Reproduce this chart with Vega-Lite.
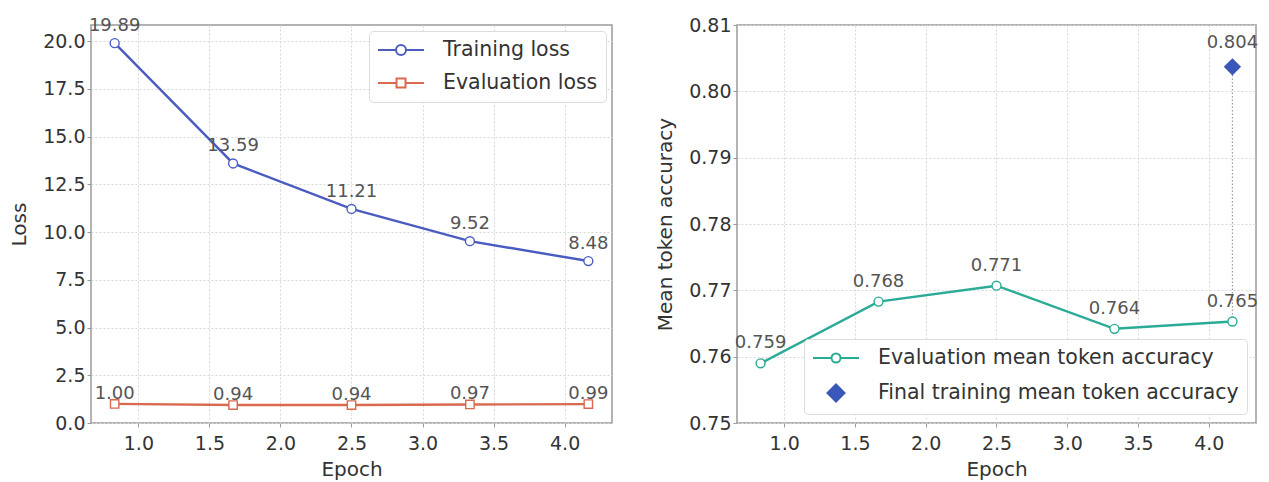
{
  "$schema": "https://vega.github.io/schema/vega-lite/v6.json",
  "padding": {"left": 8, "top": 15, "right": 8, "bottom": 5},
  "spacing": 41,
  "background": "white",
  "config": {
    "font": "DejaVu Sans",
    "view": {"stroke": "#9a9a9a", "strokeWidth": 1.5},
    "axis": {
      "domain": false,
      "grid": true,
      "gridColor": "#d9d9d9",
      "gridDash": [2, 2],
      "gridWidth": 1,
      "tickColor": "#9a9a9a",
      "tickSize": 4,
      "labelFontSize": 19,
      "labelColor": "#333333",
      "labelPadding": 2,
      "titleFontSize": 20,
      "titleFontWeight": "normal",
      "titleColor": "#333333"
    },
    "axisX": {"labelPadding": 7, "titlePadding": 6},
    "axisY": {"titlePadding": 13},
    "legend": {
      "labelFontSize": 20.5,
      "labelColor": "#333333",
      "labelLimit": 600,
      "fillColor": "white",
      "strokeColor": "#dddddd",
      "cornerRadius": 4,
      "padding": 8,
      "rowPadding": 11,
      "symbolSize": 400,
      "symbolStrokeWidth": 2,
      "symbolOpacity": 1,
      "symbolFillColor": "white",
      "symbolOffset": 13,
      "labelOffset": 31
    }
  },
  "resolve": {
    "scale": {"color": "independent", "shape": "independent", "fill": "independent", "x": "independent", "y": "independent"},
    "legend": {"color": "independent", "shape": "independent", "fill": "independent"}
  },
  "hconcat": [
    {
      "width": 521,
      "height": 398,
      "data": {
        "values": [
          {"epoch": 0.8333, "loss": 19.89, "series": "Training loss"},
          {"epoch": 1.6667, "loss": 13.59, "series": "Training loss"},
          {"epoch": 2.5, "loss": 11.21, "series": "Training loss"},
          {"epoch": 3.3333, "loss": 9.52, "series": "Training loss"},
          {"epoch": 4.1667, "loss": 8.48, "series": "Training loss"},
          {"epoch": 0.8333, "loss": 1.0, "series": "Evaluation loss"},
          {"epoch": 1.6667, "loss": 0.94, "series": "Evaluation loss"},
          {"epoch": 2.5, "loss": 0.94, "series": "Evaluation loss"},
          {"epoch": 3.3333, "loss": 0.97, "series": "Evaluation loss"},
          {"epoch": 4.1667, "loss": 0.99, "series": "Evaluation loss"}
        ]
      },
      "encoding": {
        "x": {
          "field": "epoch", "type": "quantitative",
          "scale": {"domain": [0.6667, 4.3333], "nice": false, "zero": false},
          "axis": {"values": [1, 1.5, 2, 2.5, 3, 3.5, 4], "format": ".1f", "title": "Epoch"}
        },
        "y": {
          "field": "loss", "type": "quantitative",
          "scale": {"domain": [0, 20.84], "nice": false},
          "axis": {"values": [0, 2.5, 5, 7.5, 10, 12.5, 15, 17.5, 20], "format": ".1f", "title": "Loss"}
        }
      },
      "layer": [
        {
          "transform": [{"filter": "datum.series === 'Training loss'"}],
          "mark": {"type": "line", "strokeWidth": 2.4, "color": "#4a5cc0"},
          "encoding": {}
        },
        {
          "transform": [{"filter": "datum.series === 'Evaluation loss'"}],
          "mark": {"type": "line", "strokeWidth": 2.4, "color": "#d9694f"},
          "encoding": {}
        },
        {
          "transform": [{"filter": "datum.series === 'Training loss'"}],
          "mark": {"type": "point", "shape": "circle", "filled": false, "fill": "white", "fillOpacity": 1, "stroke": "#4a5cc0", "strokeWidth": 1.4, "opacity": 1, "size": 80}
        },
        {
          "transform": [{"filter": "datum.series === 'Evaluation loss'"}],
          "mark": {"type": "point", "shape": "square", "filled": false, "fill": "white", "fillOpacity": 1, "stroke": "#d9694f", "strokeWidth": 1.4, "opacity": 1, "size": 70}
        },
        {
          "transform": [{"filter": "datum.series === 'Training loss'"}],
          "mark": {"type": "text", "fontSize": 18, "color": "#555555", "baseline": "alphabetic", "dy": -12},
          "encoding": {"text": {"field": "loss", "type": "quantitative", "format": ".2f"}}
        },
        {
          "transform": [{"filter": "datum.series === 'Evaluation loss'"}],
          "mark": {"type": "text", "fontSize": 18, "color": "#555555", "baseline": "alphabetic", "dy": -5},
          "encoding": {"text": {"field": "loss", "type": "quantitative", "format": ".2f"}}
        },
        {
          "mark": {"type": "point", "filled": false, "opacity": 0},
          "encoding": {
            "color": {"field": "series", "type": "nominal",
              "scale": {"domain": ["Training loss", "Evaluation loss"], "range": ["#4a5cc0", "#d9694f"]},
              "legend": {"title": null, "orient": "top-right", "offset": 6}},
            "shape": {"field": "series", "type": "nominal",
              "scale": {"domain": ["Training loss", "Evaluation loss"],
                "range": ["M-2.3,0H-0.5M0.5,0H2.3M-0.5,0A0.5,0.5 0 1,1 0.5,0A0.5,0.5 0 1,1 -0.5,0Z", "M-2.3,0H-0.45M0.45,0H2.3M-0.45,-0.45H0.45V0.45H-0.45Z"]},
              "legend": {"title": null, "orient": "top-right", "offset": 6}}
          }
        }
      ]
    },
    {
      "width": 519,
      "height": 398,
      "data": {
        "values": [
          {"epoch": 0.8333, "acc": 0.759, "series": "Evaluation mean token accuracy"},
          {"epoch": 1.6667, "acc": 0.7683, "series": "Evaluation mean token accuracy"},
          {"epoch": 2.5, "acc": 0.7707, "series": "Evaluation mean token accuracy"},
          {"epoch": 3.3333, "acc": 0.7642, "series": "Evaluation mean token accuracy"},
          {"epoch": 4.1667, "acc": 0.7653, "series": "Evaluation mean token accuracy"},
          {"epoch": 4.1667, "acc": 0.8037, "base": 0.7653, "series": "Final training mean token accuracy"}
        ]
      },
      "encoding": {
        "x": {
          "field": "epoch", "type": "quantitative",
          "scale": {"domain": [0.6667, 4.3333], "nice": false, "zero": false},
          "axis": {"values": [1, 1.5, 2, 2.5, 3, 3.5, 4], "format": ".1f", "title": "Epoch"}
        },
        "y": {
          "field": "acc", "type": "quantitative",
          "scale": {"domain": [0.75, 0.81], "nice": false, "zero": false},
          "axis": {"values": [0.75, 0.76, 0.77, 0.78, 0.79, 0.8, 0.81], "format": ".2f", "title": "Mean token accuracy"}
        }
      },
      "layer": [
        {
          "transform": [{"filter": "datum.series === 'Final training mean token accuracy'"}],
          "mark": {"type": "rule", "color": "#9a9a9a", "strokeWidth": 1.2, "strokeDash": [1.5, 2]},
          "encoding": {
            "y": {"field": "base", "type": "quantitative"},
            "y2": {"field": "acc"}
          }
        },
        {
          "transform": [{"filter": "datum.series === 'Evaluation mean token accuracy'"}],
          "mark": {"type": "line", "strokeWidth": 2.4, "color": "#2aab96"},
          "encoding": {}
        },
        {
          "transform": [{"filter": "datum.series === 'Evaluation mean token accuracy'"}],
          "mark": {"type": "point", "shape": "circle", "filled": false, "fill": "white", "fillOpacity": 1, "stroke": "#2aab96", "strokeWidth": 1.4, "opacity": 1, "size": 80}
        },
        {
          "transform": [{"filter": "datum.series === 'Final training mean token accuracy'"}],
          "mark": {"type": "point", "shape": "diamond", "filled": true, "color": "#3a58b8", "opacity": 1, "size": 300}
        },
        {
          "transform": [{"filter": "datum.series === 'Evaluation mean token accuracy'"}],
          "mark": {"type": "text", "fontSize": 18, "color": "#555555", "baseline": "alphabetic", "dy": -15},
          "encoding": {"text": {"field": "acc", "type": "quantitative", "format": ".3f"}}
        },
        {
          "transform": [{"filter": "datum.series === 'Final training mean token accuracy'"}],
          "mark": {"type": "text", "fontSize": 18, "color": "#555555", "baseline": "alphabetic", "dy": -19},
          "encoding": {"text": {"field": "acc", "type": "quantitative", "format": ".3f"}}
        },
        {
          "mark": {"type": "point", "filled": false, "opacity": 0},
          "encoding": {
            "color": {"field": "series", "type": "nominal",
              "scale": {"domain": ["Evaluation mean token accuracy", "Final training mean token accuracy"], "range": ["#2aab96", "#3a58b8"]},
              "legend": {"title": null, "orient": "bottom-right", "offset": 9}},
            "fill": {"field": "series", "type": "nominal",
              "scale": {"domain": ["Evaluation mean token accuracy", "Final training mean token accuracy"], "range": ["white", "#3a58b8"]},
              "legend": {"title": null, "orient": "bottom-right", "offset": 9}},
            "shape": {"field": "series", "type": "nominal",
              "scale": {"domain": ["Evaluation mean token accuracy", "Final training mean token accuracy"],
                "range": ["M-2.3,0H-0.45M0.45,0H2.3M-0.45,0A0.45,0.45 0 1,1 0.45,0A0.45,0.45 0 1,1 -0.45,0Z", "M-0.85,0L0,-0.85L0.85,0L0,0.85Z"]},
              "legend": {"title": null, "orient": "bottom-right", "offset": 9}}
          }
        }
      ]
    }
  ]
}
